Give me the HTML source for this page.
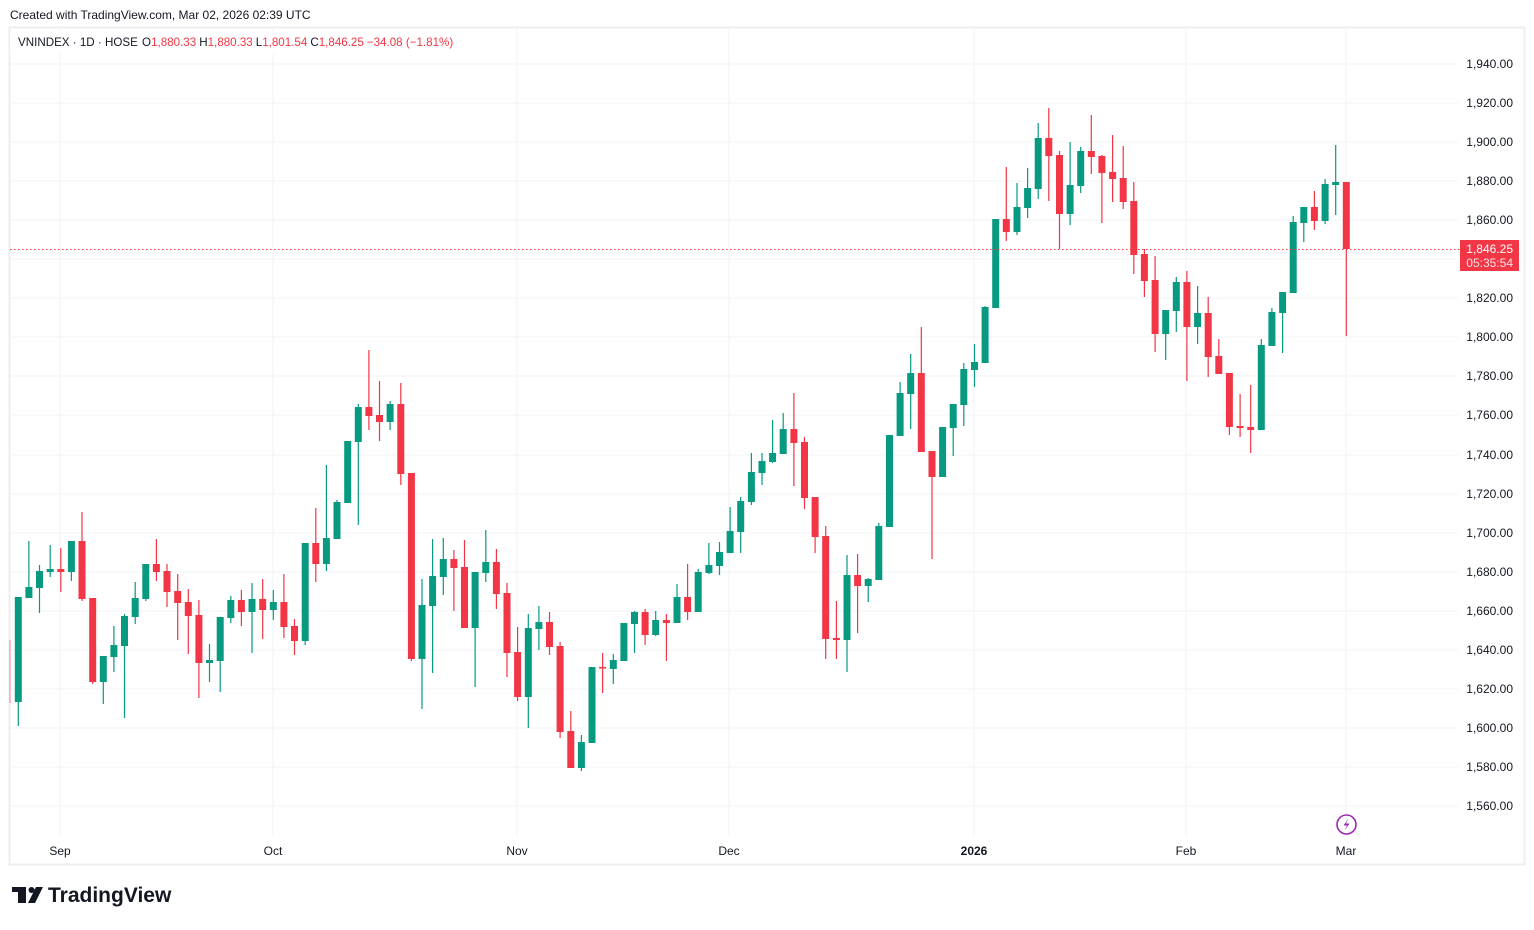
<!DOCTYPE html>
<html><head><meta charset="utf-8"><style>
html,body{margin:0;padding:0;background:#fff;}
body{width:1534px;height:925px;overflow:hidden;font-family:"Liberation Sans",sans-serif;}
</style></head><body>
<svg width="1534" height="925" viewBox="0 0 1534 925" xmlns="http://www.w3.org/2000/svg" font-family="Liberation Sans, sans-serif">
<rect width="1534" height="925" fill="#fff"/>
<text x="10" y="19" font-size="12" fill="#131722">Created with TradingView.com, Mar 02, 2026 02:39 UTC</text>
<rect x="9.5" y="27.5" width="1515" height="837" fill="none" stroke="#eceef2" stroke-width="2"/>
<g stroke="#f2f3f5" stroke-width="1" shape-rendering="crispEdges">
<line x1="10" x2="1458" y1="64" y2="64"/><line x1="10" x2="1458" y1="103" y2="103"/><line x1="10" x2="1458" y1="142" y2="142"/><line x1="10" x2="1458" y1="181" y2="181"/><line x1="10" x2="1458" y1="220" y2="220"/><line x1="10" x2="1458" y1="259" y2="259"/><line x1="10" x2="1458" y1="298" y2="298"/><line x1="10" x2="1458" y1="337" y2="337"/><line x1="10" x2="1458" y1="376" y2="376"/><line x1="10" x2="1458" y1="415" y2="415"/><line x1="10" x2="1458" y1="455" y2="455"/><line x1="10" x2="1458" y1="494" y2="494"/><line x1="10" x2="1458" y1="533" y2="533"/><line x1="10" x2="1458" y1="572" y2="572"/><line x1="10" x2="1458" y1="611" y2="611"/><line x1="10" x2="1458" y1="650" y2="650"/><line x1="10" x2="1458" y1="689" y2="689"/><line x1="10" x2="1458" y1="728" y2="728"/><line x1="10" x2="1458" y1="767" y2="767"/><line x1="10" x2="1458" y1="806" y2="806"/>
<line x1="60" x2="60" y1="28" y2="836"/><line x1="273" x2="273" y1="28" y2="836"/><line x1="517" x2="517" y1="28" y2="836"/><line x1="729" x2="729" y1="28" y2="836"/><line x1="974" x2="974" y1="28" y2="836"/><line x1="1186" x2="1186" y1="28" y2="836"/><line x1="1346" x2="1346" y1="28" y2="836"/>
</g>
<g font-size="12" fill="#131722" text-anchor="end">
<text x="1513" y="68">1,940.00</text><text x="1513" y="107">1,920.00</text><text x="1513" y="146">1,900.00</text><text x="1513" y="185">1,880.00</text><text x="1513" y="224">1,860.00</text><text x="1513" y="302">1,820.00</text><text x="1513" y="341">1,800.00</text><text x="1513" y="380">1,780.00</text><text x="1513" y="419">1,760.00</text><text x="1513" y="459">1,740.00</text><text x="1513" y="498">1,720.00</text><text x="1513" y="537">1,700.00</text><text x="1513" y="576">1,680.00</text><text x="1513" y="615">1,660.00</text><text x="1513" y="654">1,640.00</text><text x="1513" y="693">1,620.00</text><text x="1513" y="732">1,600.00</text><text x="1513" y="771">1,580.00</text><text x="1513" y="810">1,560.00</text>
</g>
<g font-size="12" fill="#131722" text-anchor="middle">
<text x="60" y="855">Sep</text><text x="273" y="855">Oct</text><text x="517" y="855">Nov</text><text x="729" y="855">Dec</text><text x="974" y="855" font-weight="bold">2026</text><text x="1186" y="855">Feb</text><text x="1346" y="855">Mar</text>
</g>
<line x1="10" y1="640" x2="10" y2="703" stroke="#f7a5ac" stroke-width="1.5"/>
<path fill="none" stroke="#089981" stroke-width="1.2" d="M18.3 597V726M28.9 541V598M39.5 565V613M50.2 545V577M71.4 541V581M103.3 656V704M113.9 626V672M124.5 614V718M135.2 582V624M145.8 564V601M209.5 644V682M220.2 617V692M230.8 596V623M252 583V653M273.3 590V620M305.2 543V645M326.4 465V571M337 500V539M347.7 441V503M358.3 404V525M390.1 401V430M422 579V709M432.6 539V673M443.3 538V595M475.1 572V687M485.8 530V582M528.3 614V728M538.9 606V650M581.4 735V771M592 667V743M613.3 654V684M623.9 623V661M634.5 611V653M655.7 611V636M677 584V623M698.2 569V612M708.9 543V574M719.5 542V575M730.1 507V553M740.7 497V553M751.4 453V505M762 453V485M772.6 420V463M783.2 413V454M847 555V672M868.2 578V602M878.8 523V580M889.5 435V527M900.1 382V436M910.7 354V429M942.6 427V477M953.2 404V456M963.8 363V426M974.5 344V387M985.1 306V363M995.7 219V308M1017 183V235M1027.6 168V218M1038.2 123V199M1070.1 142V225M1080.7 147V193M1165.7 310V360M1176.3 277V332M1197.6 286V344M1261.3 339V430M1271.9 308V346M1282.6 292V353M1293.2 216V293M1303.8 207V242M1325.1 179V224M1335.7 145V215"/>
<path fill="none" stroke="#F23645" stroke-width="1.2" d="M60.8 548V592M82 512V601M92.7 598V684M156.4 539V581M167 564V607M177.7 574V640M188.3 589V654M198.9 600V698M241.4 590V626M262.7 579V639M283.9 574V638M294.5 619V655M315.8 508V582M368.9 350V430M379.5 381V441M400.8 383V485M411.4 473V661M453.9 550V611M464.5 540V628M496.4 549V609M507 583V677M517.6 627V701M549.5 612V655M560.1 642V738M570.8 711V768M602.6 653V693M645.1 609V645M666.4 614V661M687.6 564V620M793.9 393V486M804.5 437V509M815.1 497V553M825.7 526V659M836.4 601V659M857.6 554V633M921.3 327V452M932 451V559M1006.3 167V241M1048.8 108V201M1059.5 151V249M1091.3 115V174M1101.9 155V223M1112.6 135V202M1123.2 146V209M1133.8 182V274M1144.4 249V297M1155.1 256V352M1186.9 271V381M1208.2 297V377M1218.8 339V374M1229.4 373V435M1240.1 394V437M1250.7 385V453M1314.4 191V230M1346.3 182V336"/>
<path fill="#089981" d="M14.8 597h7v105h-7zM25.4 587h7v11h-7zM36 571h7v17h-7zM46.7 569h7v3h-7zM67.9 541h7v31h-7zM99.8 656h7v26h-7zM110.4 645h7v12h-7zM121 616h7v30h-7zM131.7 598h7v19h-7zM142.3 564h7v35h-7zM206 660h7v3h-7zM216.7 617h7v44h-7zM227.3 600h7v18h-7zM248.5 599h7v13h-7zM269.8 602h7v8h-7zM301.7 543h7v98h-7zM322.9 538h7v26h-7zM333.5 502h7v37h-7zM344.2 441h7v62h-7zM354.8 407h7v35h-7zM386.6 404h7v18h-7zM418.5 605h7v54h-7zM429.1 576h7v30h-7zM439.8 559h7v18h-7zM471.6 572h7v56h-7zM482.3 562h7v11h-7zM524.8 628h7v69h-7zM535.4 622h7v7h-7zM577.9 742h7v26h-7zM588.5 667h7v76h-7zM609.8 660h7v9h-7zM620.4 623h7v38h-7zM631 612h7v12h-7zM652.2 620h7v15h-7zM673.5 597h7v26h-7zM694.7 572h7v40h-7zM705.4 565h7v8h-7zM716 552h7v14h-7zM726.6 531h7v22h-7zM737.2 501h7v31h-7zM747.9 472h7v30h-7zM758.5 461h7v12h-7zM769.1 453h7v9h-7zM779.7 429h7v25h-7zM843.5 575h7v65h-7zM864.7 579h7v7h-7zM875.3 526h7v54h-7zM886 435h7v92h-7zM896.6 393h7v43h-7zM907.2 373h7v21h-7zM939.1 427h7v50h-7zM949.7 404h7v24h-7zM960.3 369h7v36h-7zM971 362h7v8h-7zM981.6 307h7v56h-7zM992.2 219h7v89h-7zM1013.5 207h7v25h-7zM1024.1 188h7v20h-7zM1034.7 138h7v51h-7zM1066.6 185h7v29h-7zM1077.2 151h7v35h-7zM1162.2 310h7v24h-7zM1172.8 282h7v29h-7zM1194.1 313h7v14h-7zM1257.8 345h7v85h-7zM1268.4 312h7v34h-7zM1279.1 292h7v21h-7zM1289.7 222h7v71h-7zM1300.3 207h7v16h-7zM1321.6 184h7v37h-7zM1332.2 182h7v3h-7z"/>
<path fill="#F23645" d="M57.3 569h7v3h-7zM78.5 541h7v58h-7zM89.2 598h7v84h-7zM152.9 564h7v8h-7zM163.5 571h7v21h-7zM174.2 591h7v12h-7zM184.8 602h7v14h-7zM195.4 615h7v48h-7zM237.9 600h7v12h-7zM259.2 599h7v11h-7zM280.4 602h7v25h-7zM291 626h7v15h-7zM312.3 543h7v21h-7zM365.4 407h7v9h-7zM376 415h7v7h-7zM397.3 404h7v70h-7zM407.9 473h7v186h-7zM450.4 559h7v9h-7zM461 567h7v61h-7zM492.9 562h7v32h-7zM503.5 593h7v60h-7zM514.1 652h7v45h-7zM546 622h7v25h-7zM556.6 646h7v86h-7zM567.3 731h7v37h-7zM599.1 667h7v1.5h-7zM641.6 612h7v23h-7zM662.9 620h7v3h-7zM684.1 597h7v15h-7zM790.4 429h7v14h-7zM801 442h7v56h-7zM811.6 497h7v40h-7zM822.2 536h7v103h-7zM832.9 638h7v2h-7zM854.1 575h7v11h-7zM917.8 373h7v79h-7zM928.5 451h7v26h-7zM1002.8 219h7v13h-7zM1045.3 138h7v18h-7zM1056 155h7v59h-7zM1087.8 151h7v6h-7zM1098.4 156h7v17h-7zM1109.1 172h7v7h-7zM1119.7 178h7v24h-7zM1130.3 201h7v54h-7zM1140.9 254h7v27h-7zM1151.6 280h7v54h-7zM1183.4 282h7v45h-7zM1204.7 313h7v44h-7zM1215.3 356h7v18h-7zM1225.9 373h7v54h-7zM1236.6 426h7v2h-7zM1247.2 427h7v3h-7zM1310.9 207h7v14h-7zM1342.8 182h7v67h-7z"/>
<line x1="10" y1="249.5" x2="1460" y2="249.5" stroke="#F23645" stroke-width="1" stroke-dasharray="1.5,2.5"/>
<rect x="1460" y="240" width="59" height="31" fill="#F23645"/>
<text x="1513" y="253" font-size="12" fill="#fff" text-anchor="end">1,846.25</text>
<text x="1513" y="267" font-size="12" fill="#fde0e3" text-anchor="end">05:35:54</text>
<rect x="10" y="32" width="462" height="22" fill="#fff"/>
<text x="18" y="46" font-size="11.6" fill="#131722">VNINDEX · 1D · HOSE <tspan dx="1">O</tspan><tspan fill="#F23645">1,880.33</tspan><tspan dx="3">H</tspan><tspan fill="#F23645">1,880.33</tspan><tspan dx="3">L</tspan><tspan fill="#F23645">1,801.54</tspan><tspan dx="3">C</tspan><tspan fill="#F23645">1,846.25</tspan><tspan dx="3" fill="#F23645">−34.08 (−1.81%)</tspan></text>
<circle cx="1346.5" cy="824.5" r="9.5" fill="#fff" stroke="#9c27b0" stroke-width="1.6"/>
<path d="M1348.5 818.5L1343.5 825.5H1347L1344.5 830.5L1349.5 823.5H1346Z" fill="#9c27b0"/>
<g fill="#131722">
<rect x="12" y="887" width="14" height="5"/><rect x="18" y="887" width="8" height="16"/>
<circle cx="31.5" cy="890" r="3"/><path d="M36 887H43L35 903H28Z"/>
</g>
<text x="48" y="902" font-size="21" font-weight="bold" fill="#131722">TradingView</text>
</svg>
</body></html>
